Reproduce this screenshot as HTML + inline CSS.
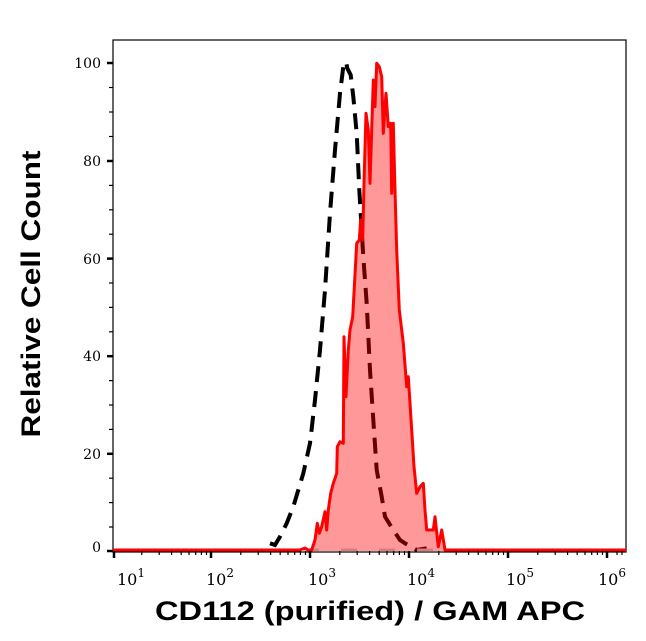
<!DOCTYPE html>
<html><head><meta charset="utf-8"><style>
html,body{margin:0;padding:0;background:#fff;}
svg{display:block;}
.t{font-family:"DejaVu Serif","Liberation Serif",serif;font-size:14px;fill:#000;}
.tx{font-family:"DejaVu Serif","Liberation Serif",serif;font-size:16px;fill:#000;}
.ti{font-family:"Liberation Sans",sans-serif;font-weight:bold;font-size:27px;fill:#000;}
</style></head><body>
<svg width="646" height="641" viewBox="0 0 646 641" xmlns="http://www.w3.org/2000/svg">
<rect x="113" y="40" width="513" height="512" fill="none" stroke="#000" stroke-width="1.2"/>
<polyline fill="none" stroke="#000" stroke-width="4" stroke-dasharray="16,9" points="270,543.3 275,545 280,536.7 286.7,523.3 293.3,506.7 303.3,473.3 310,443.3 315,400 320,350 325,290 330,213.3 335,150 340,93.3 343.3,66.7 346,61.7 347.3,68.3 350.7,75 353.3,96.7 356.7,133.3 359.3,190 363.3,256.7 366.7,303.3 370,370 373.3,420 376.7,470 381.7,496.7 385,516.7 393.3,530 400,540 405,543.3 416.7,550 426.7,548.3"/>
<line x1="113" y1="550" x2="626" y2="550" stroke="#ccc" stroke-width="3" stroke-dasharray="16,22"/>
<polygon fill="rgba(255,0,0,0.4)" points="311.7,551 311.7,550 315,540 317.3,523.3 319.3,533.3 321.7,526.7 325,511.7 326.7,530 328.3,510 330.7,493.3 333.3,483.3 336.7,473.3 337.3,446.7 340,441.7 343.3,443.3 344,336.7 346,396.7 348.3,350 350,330 352.7,316.7 356.7,243.3 359.3,240 360.7,220 362.7,240 364,183.3 366,113.3 368.3,130 370,183.3 371.7,130 373.3,80 375,106.7 376.7,63.3 379.3,66.7 381.7,76.7 383.3,133.3 386,93.3 388.3,126.7 390.7,123.3 391.7,193.3 393.3,123.3 395,190 396.7,250 399.3,310 403.3,343.3 406.7,386.7 408.3,376.7 411.7,430 414,466.7 416.7,493.3 420,486.7 423.3,483.3 425,510 426.7,530 429.3,530 433.3,530 435,516.7 438.3,546.7 441.7,530 445,550 445,551"/>
<polyline fill="none" stroke="#f00" stroke-width="3" stroke-linejoin="round" points="113,550 300,550 305,548 308,550 311.7,550 315,540 317.3,523.3 319.3,533.3 321.7,526.7 325,511.7 326.7,530 328.3,510 330.7,493.3 333.3,483.3 336.7,473.3 337.3,446.7 340,441.7 343.3,443.3 344,336.7 346,396.7 348.3,350 350,330 352.7,316.7 356.7,243.3 359.3,240 360.7,220 362.7,240 364,183.3 366,113.3 368.3,130 370,183.3 371.7,130 373.3,80 375,106.7 376.7,63.3 379.3,66.7 381.7,76.7 383.3,133.3 386,93.3 388.3,126.7 390.7,123.3 391.7,193.3 393.3,123.3 395,190 396.7,250 399.3,310 403.3,343.3 406.7,386.7 408.3,376.7 411.7,430 414,466.7 416.7,493.3 420,486.7 423.3,483.3 425,510 426.7,530 429.3,530 433.3,530 435,516.7 438.3,546.7 441.7,530 445,550 626,550"/>
<g stroke="#000" stroke-width="2.5">
<line x1="107" y1="63" x2="113" y2="63"/><line x1="107" y1="161" x2="113" y2="161"/>
<line x1="107" y1="258.6" x2="113" y2="258.6"/><line x1="107" y1="356.2" x2="113" y2="356.2"/>
<line x1="107" y1="453.8" x2="113" y2="453.8"/><line x1="107" y1="551" x2="113" y2="551"/>
</g>
<g stroke="#000" stroke-width="1.2">
<line x1="109" y1="87.5" x2="113" y2="87.5"/><line x1="109" y1="112" x2="113" y2="112"/><line x1="109" y1="136.5" x2="113" y2="136.5"/>
<line x1="109" y1="185.4" x2="113" y2="185.4"/><line x1="109" y1="209.8" x2="113" y2="209.8"/><line x1="109" y1="234.2" x2="113" y2="234.2"/>
<line x1="109" y1="283" x2="113" y2="283"/><line x1="109" y1="307.4" x2="113" y2="307.4"/><line x1="109" y1="331.8" x2="113" y2="331.8"/>
<line x1="109" y1="380.6" x2="113" y2="380.6"/><line x1="109" y1="405" x2="113" y2="405"/><line x1="109" y1="429.4" x2="113" y2="429.4"/>
<line x1="109" y1="478.2" x2="113" y2="478.2"/><line x1="109" y1="502.6" x2="113" y2="502.6"/><line x1="109" y1="527" x2="113" y2="527"/>
</g>
<g class="t" text-anchor="end">
<text x="101" y="68">100</text><text x="101" y="166">80</text><text x="101" y="264">60</text>
<text x="101" y="361">40</text><text x="101" y="459">20</text><text x="101" y="552">0</text>
</g>
<g stroke="#000" stroke-width="2.5">
<line x1="114" y1="551" x2="114" y2="558"/><line x1="211" y1="551" x2="211" y2="558"/><line x1="310" y1="551" x2="310" y2="558"/>
<line x1="409" y1="551" x2="409" y2="558"/><line x1="508" y1="551" x2="508" y2="558"/><line x1="607" y1="551" x2="607" y2="558"/>
</g>
<g stroke="#000" stroke-width="1.2" id="mn">
<path d="M141.8 551v4M159.2 551v4M171.6 551v4M181.2 551v4M189 551v4M195.7 551v4M201.4 551v4M206.5 551v4
M240.8 551v4M258.2 551v4M270.6 551v4M280.2 551v4M288 551v4M294.7 551v4M300.4 551v4M305.5 551v4
M339.8 551v4M357.2 551v4M369.6 551v4M379.2 551v4M387 551v4M393.7 551v4M399.4 551v4M404.5 551v4
M438.8 551v4M456.2 551v4M468.6 551v4M478.2 551v4M486 551v4M492.7 551v4M498.4 551v4M503.5 551v4
M537.8 551v4M555.2 551v4M567.6 551v4M577.2 551v4M585 551v4M591.7 551v4M597.4 551v4M602.5 551v4
M617 551v4M622 551v4"/>
</g>
<g class="tx">
<text x="117" y="585">10<tspan dy="-8" font-size="12">1</tspan></text>
<text x="206" y="585">10<tspan dy="-8" font-size="12">2</tspan></text>
<text x="308" y="585">10<tspan dy="-8" font-size="12">3</tspan></text>
<text x="407" y="585">10<tspan dy="-8" font-size="12">4</tspan></text>
<text x="506" y="585">10<tspan dy="-8" font-size="12">5</tspan></text>
<text x="598" y="585">10<tspan dy="-8" font-size="12">6</tspan></text>
</g>
<text class="ti" x="370" y="620" text-anchor="middle" textLength="430" lengthAdjust="spacingAndGlyphs">CD112 (purified) / GAM APC</text>
<text class="ti" transform="translate(40,294) rotate(-90)" text-anchor="middle" textLength="287" lengthAdjust="spacingAndGlyphs">Relative Cell Count</text>
</svg>
</body></html>
